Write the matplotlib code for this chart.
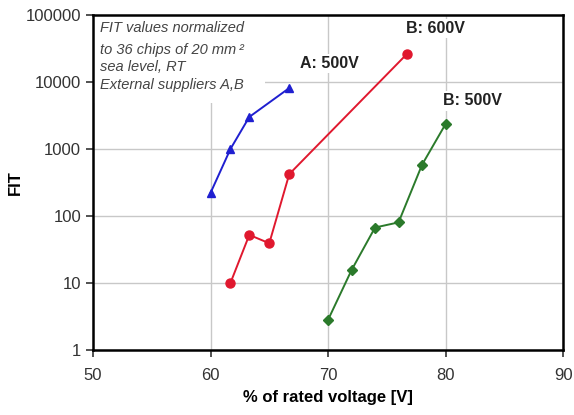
import numpy as np
from matplotlib import pyplot as plt
from matplotlib.patches import Rectangle

plt.rcParams['font.family'] = ['Liberation Sans', 'DejaVu Sans']

# A: 500V (blue triangles)
a500_x = [60.0, 61.7, 63.3, 66.7]
a500_y = [220, 1000, 3000, 8100]

# B: 600V (red circles)
b600_x = [61.7, 63.3, 65.0, 66.7, 76.7]
b600_y = [10, 52, 39, 420, 26000]

# B: 500V (green diamonds)
b500_x = [70.0, 72.0, 74.0, 76.0, 78.0, 80.0]
b500_y = [2.8, 15.5, 67, 80, 580, 2350]

xticks = [50, 60, 70, 80, 90]
yticks = [1, 10, 100, 1000, 10000, 100000]
ytick_labels = ['1', '10', '100', '1000', '10000', '100000']

note_lines = ['FIT values normalized', 'to 36 chips of 20 mm\u2009\u00b2',
              'sea level, RT', 'External suppliers A,B']

fig = plt.figure(figsize=(5.74, 4.15), dpi=100)
ax = fig.add_axes([0.162, 0.157, 0.819, 0.807])

ax.plot(a500_x, a500_y, color='#1f1fd0', lw=1.4, marker='^', ms=6, zorder=3)
ax.plot(b600_x, b600_y, color='#e0182e', lw=1.4, marker='o', ms=6.5, zorder=3)
ax.plot(b500_x, b500_y, color='#2b7a2b', lw=1.4, marker='D', ms=5, zorder=3)

ax.set_yscale('log')
ax.set_xlim(50, 90)
ax.set_ylim(1, 100000)
ax.set_xticks(xticks)
ax.set_yticks(yticks)
ax.set_yticklabels(ytick_labels)
ax.minorticks_off()
ax.grid(True, color='#c8c8c8', lw=1.0, zorder=0)
ax.set_axisbelow(True)

for s in ax.spines.values():
    s.set_linewidth(1.8)
ax.tick_params(axis='both', labelsize=12, colors='#333333', length=5, width=1.2)
ax.tick_params(axis='x', pad=8)

ax.set_xlabel('% of rated voltage [V]', fontsize=12, fontweight='bold', labelpad=5)
ax.set_ylabel('FIT', fontsize=12, fontweight='bold', labelpad=2)

# white area behind the note hides the grid there
ax.add_patch(Rectangle((50, 4900), 14.6, 100000, facecolor='white',
                       edgecolor='none', zorder=1))

lbl = dict(fontsize=11.5, fontweight='bold', color='#222222', ha='center', va='center',
           zorder=2, bbox=dict(facecolor='white', edgecolor='none', pad=1.5))
ax.text(70.1, 19000, 'A: 500V', **lbl)
ax.text(79.1, 62000, 'B: 600V', **lbl)
ax.text(82.3, 5200, 'B: 500V', **lbl)

note_y = [0.949, 0.884, 0.833, 0.779]
for line, yy in zip(note_lines, note_y):
    ax.text(0.015, yy, line, transform=ax.transAxes, fontsize=10.5,
            style='italic', color='#444444', ha='left', va='baseline', zorder=2)

fig.savefig('out.png', dpi=100)
